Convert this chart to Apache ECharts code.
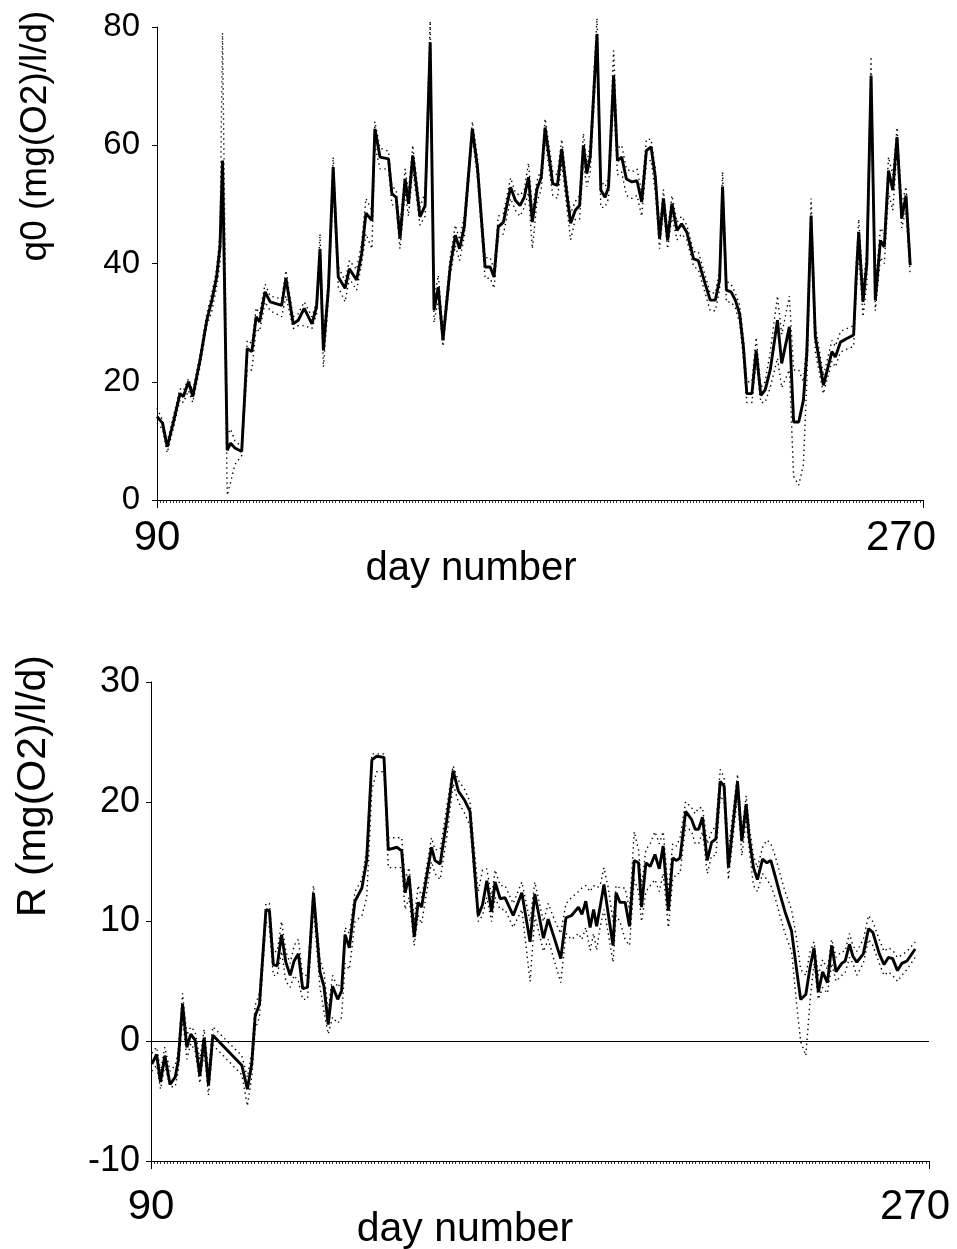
<!DOCTYPE html>
<html><head><meta charset="utf-8">
<script src="https://cdn.jsdelivr.net/npm/echarts@6/dist/echarts.min.js"></script>
<style>html,body{margin:0;padding:0;background:#fff}#c{width:957px;height:1249px}</style>
</head><body><div id="c"></div>
<script>
// ---------- top panel: q0 ----------
const qDays = [
  90.0, 91.3, 92.4, 93.8, 95.4, 96.2, 97.4, 98.4, 100.1, 101.7,
  102.9, 104.0, 104.8, 105.4, 106.5, 107.3, 108.3, 109.9, 111.2, 112.3,
  113.3, 114.1, 115.4, 116.6, 119.3, 120.3, 122.0, 123.2, 124.6, 126.4,
  127.5, 128.3, 129.1, 130.3, 131.4, 132.6, 134.2, 135.2, 136.9, 138.1,
  139.1, 140.5, 141.2, 142.4, 144.4, 145.2, 146.2, 147.1, 148.3, 149.1,
  150.1, 151.8, 153.0, 154.2, 155.1, 156.1, 157.2, 158.9, 160.1, 161.1,
  162.2, 164.1, 165.3, 167.1, 168.3, 169.2, 170.2, 171.4, 173.1, 174.2,
  175.3, 176.3, 177.3, 178.2, 179.3, 180.3, 181.2, 183.0, 184.1, 185.1,
  186.3, 187.2, 188.3, 189.3, 190.2, 191.0, 191.8, 193.4, 194.3, 195.3,
  196.1, 197.3, 198.2, 199.2, 200.3, 201.6, 202.8, 203.9, 205.0, 206.1,
  207.1, 208.1, 209.0, 210.0, 211.0, 212.2, 213.3, 214.5, 216.1, 217.2,
  218.8, 220.0, 221.2, 222.2, 222.9, 223.8, 224.9, 225.9, 226.9, 227.8,
  228.6, 229.8, 230.8, 231.9, 232.9, 234.1, 235.8, 236.8, 238.6, 239.6,
  240.8, 241.9, 242.7, 243.7, 244.7, 246.6, 248.6, 249.4, 250.6, 252.1,
  253.7, 254.3, 254.9, 255.9, 256.8, 257.8, 258.8, 260.0, 260.9, 261.9,
  262.9, 263.9, 265.0, 266.0, 267.0
];
const q0 = [
  14.1, 13.0, 9.0, 13.0, 18.0, 17.5, 20.0, 17.5, 23.6, 30.4,
  33.8, 37.7, 42.8, 57.4, 8.4, 9.6, 8.8, 8.2, 25.6, 25.1,
  31.0, 30.1, 35.2, 33.5, 32.9, 37.5, 29.8, 30.4, 32.4, 29.8,
  32.7, 42.5, 25.3, 36.0, 56.3, 37.7, 35.8, 39.1, 37.2, 41.7,
  48.5, 47.3, 62.8, 58.0, 57.7, 51.8, 51.2, 44.2, 54.3, 50.1,
  58.3, 47.9, 49.8, 77.4, 32.1, 36.0, 27.0, 39.4, 44.8, 42.5,
  46.2, 62.8, 56.3, 39.4, 39.4, 37.7, 46.2, 47.0, 52.9, 50.7,
  49.8, 51.2, 54.6, 47.0, 52.6, 54.6, 63.0, 53.5, 53.2, 59.4,
  51.8, 46.8, 49.0, 49.8, 60.0, 55.2, 58.0, 78.8, 52.4, 51.2,
  52.9, 71.8, 57.4, 58.0, 54.3, 53.8, 54.0, 50.4, 59.1, 59.7,
  54.6, 44.2, 51.0, 43.9, 50.1, 45.6, 46.7, 45.3, 40.8, 40.5,
  36.6, 33.8, 33.8, 37.2, 53.0, 35.5, 35.2, 33.8, 31.5, 25.9,
  18.0, 18.0, 25.3, 17.7, 18.6, 22.0, 30.4, 23.1, 29.3, 13.2,
  13.2, 16.9, 24.8, 48.1, 27.6, 19.4, 25.1, 24.2, 26.7, 27.3,
  27.9, 37.7, 45.3, 33.5, 40.0, 71.8, 33.8, 43.9, 42.8, 55.7,
  52.4, 61.4, 47.6, 51.5, 39.7
];
const q0Upper = [
  15.5, 13.5, 9.8, 14.0, 18.8, 18.5, 20.5, 18.5, 24.5, 31.5,
  35.0, 39.0, 45.0, 79.0, 11.0, 12.0, 10.0, 9.0, 27.0, 26.5,
  32.5, 31.5, 36.5, 34.5, 34.0, 38.8, 31.0, 31.5, 33.5, 31.0,
  33.5, 45.0, 27.0, 37.5, 58.0, 39.5, 37.0, 40.5, 39.0, 43.5,
  51.0, 49.0, 64.0, 59.5, 59.0, 53.0, 52.5, 46.0, 56.0, 52.0,
  60.0, 49.5, 52.0, 81.0, 34.0, 38.0, 28.5, 41.0, 46.5, 44.0,
  48.0, 64.0, 58.0, 41.0, 41.0, 39.0, 48.0, 48.5, 54.5, 52.0,
  51.5, 52.5, 57.0, 49.0, 54.0, 56.0, 64.5, 55.5, 55.0, 61.0,
  53.5, 48.5, 50.5, 51.5, 62.0, 57.0, 60.0, 81.5, 54.0, 53.0,
  54.5, 76.0, 59.5, 60.0, 56.0, 55.5, 56.0, 52.0, 61.0, 61.0,
  56.0, 46.0, 52.5, 45.5, 51.5, 47.0, 48.0, 46.5, 42.0, 42.0,
  38.0, 35.0, 35.0, 39.0, 55.5, 37.0, 36.5, 35.0, 33.0, 27.5,
  20.0, 20.0, 27.5, 19.0, 20.0, 25.0, 34.5, 28.0, 34.5, 22.0,
  22.0, 20.0, 27.0, 51.0, 29.5, 21.0, 27.0, 26.0, 28.5, 29.0,
  29.5, 40.0, 47.5, 36.0, 42.0, 75.0, 36.0, 46.0, 45.0, 58.0,
  55.0, 63.0, 50.0, 53.0, 41.5
];
const q0Lower = [
  13.0, 12.0, 8.0, 12.0, 17.0, 16.5, 18.5, 16.5, 22.5, 29.5,
  32.0, 36.0, 40.0, 55.0, 0.8, 3.0, 6.0, 7.5, 22.0, 22.0,
  29.0, 28.5, 33.5, 32.0, 31.0, 34.5, 29.0, 29.5, 29.5, 29.0,
  31.5, 40.0, 22.5, 34.0, 53.0, 36.0, 33.5, 37.5, 35.5, 40.0,
  45.0, 42.5, 60.0, 56.0, 56.0, 50.0, 49.5, 42.5, 52.0, 48.0,
  56.0, 46.5, 48.0, 75.0, 30.0, 34.0, 26.0, 38.0, 43.0, 40.5,
  44.5, 61.5, 54.5, 37.5, 37.5, 35.8, 44.5, 45.0, 51.0, 49.0,
  48.0, 49.5, 52.0, 42.5, 50.5, 52.5, 61.0, 51.5, 51.0, 57.0,
  49.5, 44.0, 47.5, 47.5, 57.0, 53.0, 55.5, 76.0, 49.5, 49.5,
  51.0, 68.0, 55.0, 55.5, 51.5, 51.0, 51.5, 48.0, 57.0, 57.5,
  52.0, 42.5, 49.0, 42.5, 48.0, 44.0, 45.0, 44.0, 39.5, 39.0,
  35.0, 32.0, 32.0, 35.5, 51.0, 33.5, 33.5, 32.5, 30.0, 24.0,
  16.5, 16.5, 23.5, 16.5, 16.5, 19.0, 24.0, 19.0, 22.0, 4.0,
  2.5, 6.0, 20.0, 45.0, 25.0, 18.0, 23.5, 22.5, 25.0, 25.5,
  26.0, 35.0, 42.0, 31.0, 36.5, 68.0, 32.0, 41.0, 40.0, 52.0,
  49.0, 59.0, 46.0, 49.0, 38.0
];

// ---------- bottom panel: R ----------
const rDays = [
  90.2, 91.3, 92.2, 93.2, 94.4, 95.6, 96.3, 97.3, 98.3, 99.2,
  100.2, 101.3, 102.3, 103.3, 104.3, 111.0, 112.3, 113.3, 114.1, 115.1,
  116.6, 117.4, 118.3, 119.2, 120.2, 121.2, 122.2, 123.1, 124.1, 125.1,
  126.2, 127.6, 129.1, 130.0, 131.0, 132.0, 133.2, 134.1, 134.9, 135.9,
  137.2, 138.8, 139.9, 141.1, 142.2, 143.9, 144.9, 146.9, 148.0, 148.8,
  149.7, 150.9, 151.8, 152.6, 154.9, 155.7, 156.9, 158.4, 159.9, 161.1,
  162.6, 163.8, 165.7, 166.7, 167.7, 168.8, 169.6, 170.8, 171.9, 173.8,
  175.8, 177.7, 178.8, 180.8, 181.9, 183.5, 184.8, 186.0, 187.3, 188.9,
  189.7, 190.6, 191.6, 192.4, 193.1, 193.9, 194.8, 195.8, 196.9, 197.6,
  198.5, 199.7, 200.7, 201.8, 202.8, 203.5, 204.5, 205.5, 206.6, 207.6,
  208.5, 209.7, 210.7, 211.6, 212.4, 213.7, 215.1, 215.9, 216.7, 217.6,
  218.7, 219.7, 220.7, 221.7, 222.6, 223.6, 225.7, 226.7, 227.7, 228.4,
  229.4, 230.3, 231.5, 232.5, 233.4, 234.4, 235.5, 236.7, 238.2, 239.4,
  240.3, 241.5, 242.5, 243.4, 244.4, 245.4, 246.5, 247.5, 248.5, 249.8,
  250.6, 251.6, 252.4, 253.3, 254.8, 256.0, 257.0, 258.5, 259.6, 260.6,
  261.6, 262.7, 263.7, 264.9, 266.8
];
const R = [
  -1.9, -1.1, -3.4, -1.2, -3.6, -3.0, -1.6, 3.1, -0.5, 0.6,
  0.1, -2.9, 0.3, -3.7, 0.5, -2.0, -4.0, -1.9, 2.1, 3.1,
  11.0, 10.9, 6.4, 6.3, 8.9, 6.6, 5.5, 6.7, 7.3, 4.4,
  4.5, 12.4, 5.8, 4.6, 1.4, 4.6, 3.5, 4.2, 8.9, 7.8,
  11.7, 12.8, 15.1, 23.5, 23.8, 23.7, 16.0, 16.2, 15.9, 12.4,
  13.8, 8.7, 11.6, 11.2, 16.2, 15.1, 14.8, 18.4, 22.6, 20.9,
  20.1, 19.2, 10.5, 11.4, 13.4, 10.8, 13.3, 11.9, 12.0, 10.5,
  12.4, 8.3, 12.3, 8.6, 10.2, 8.4, 6.9, 10.3, 10.5, 11.2,
  10.6, 11.7, 9.5, 11.0, 9.6, 11.2, 13.1, 10.6, 8.0, 12.4,
  11.6, 11.6, 9.6, 15.1, 14.9, 11.2, 14.9, 14.6, 15.6, 14.4,
  16.3, 10.9, 15.3, 15.1, 15.3, 19.2, 18.5, 17.7, 17.7, 18.7,
  15.1, 16.6, 16.9, 21.7, 21.3, 14.5, 21.7, 16.7, 19.8, 17.0,
  14.5, 13.5, 15.2, 14.9, 15.1, 13.8, 12.3, 10.8, 9.2, 5.9,
  3.5, 3.9, 6.2, 7.8, 4.1, 5.8, 4.9, 8.0, 5.8, 6.5,
  6.7, 8.1, 7.1, 6.6, 7.3, 9.4, 9.1, 7.3, 6.4, 7.0,
  6.9, 5.9, 6.5, 6.7, 7.7
];
const rUpper = [
  -1.0, -0.5, -2.5, -0.5, -2.5, -2.0, -0.8, 4.0, 0.5, 1.2,
  0.8, -1.5, 1.0, -2.5, 1.2, -1.2, -3.0, -1.0, 3.0, 4.0,
  11.5, 11.5, 7.5, 7.5, 10.0, 7.5, 6.5, 8.0, 8.5, 5.5,
  5.5, 13.0, 6.8, 5.8, 2.5, 5.5, 4.5, 5.0, 9.5, 9.0,
  12.5, 13.5, 16.0, 24.0, 24.0, 24.0, 17.0, 17.0, 17.0, 13.5,
  14.5, 10.0, 13.0, 12.0, 17.0, 16.0, 16.0, 19.5, 23.0, 21.8,
  21.0, 20.0, 12.5, 14.3, 14.4, 12.0, 14.3, 13.0, 13.0, 11.5,
  13.3, 10.0, 13.3, 10.0, 11.5, 10.0, 9.0, 11.5, 12.0, 12.5,
  12.8, 13.0, 12.5, 13.0, 12.8, 13.0, 14.5, 12.8, 10.0, 13.0,
  12.8, 12.8, 11.0, 17.5, 16.0, 13.0, 16.0, 16.5, 17.5, 16.5,
  17.5, 12.5, 16.5, 16.3, 17.0, 20.0, 19.5, 19.0, 19.5, 19.5,
  16.5, 17.5, 18.0, 22.7, 22.0, 16.0, 22.3, 17.5, 20.5, 18.0,
  15.5, 14.5, 16.2, 16.8, 16.5, 15.5, 14.0, 12.5, 11.0, 8.5,
  6.0, 5.5, 7.5, 8.3, 5.5, 6.8, 6.0, 8.5, 7.0, 7.5,
  7.5, 9.0, 8.0, 7.5, 8.5, 10.5, 10.0, 8.5, 7.5, 7.8,
  7.6, 7.0, 7.2, 7.5, 8.3
];
const rLower = [
  -2.5, -2.0, -4.0, -2.0, -3.8, -3.8, -2.5, 2.0, -1.5, -0.2,
  -0.8, -3.5, -0.8, -4.5, -0.3, -2.8, -5.4, -3.0, 1.0, 2.0,
  10.0, 9.5, 5.5, 5.5, 7.5, 5.0, 4.5, 5.5, 5.0, 3.5,
  3.5, 11.0, 4.5, 2.5, 0.6, 2.0, 1.5, 2.0, 6.5, 6.0,
  10.0, 10.5, 12.0, 21.0, 22.5, 22.5, 14.5, 14.5, 14.5, 11.0,
  12.0, 8.0, 10.5, 9.8, 15.0, 14.0, 13.5, 17.0, 21.5, 20.0,
  19.0, 18.0, 10.0, 10.5, 12.0, 10.0, 12.0, 11.0, 11.0, 9.5,
  11.0, 5.0, 10.5, 7.5, 8.5, 6.5, 4.9, 9.0, 8.5, 9.0,
  8.5, 9.5, 7.6, 9.0, 7.6, 9.5, 11.0, 9.0, 6.6, 10.5,
  10.0, 8.5, 8.0, 13.5, 12.5, 10.0, 12.5, 13.0, 13.5, 12.5,
  14.0, 9.5, 13.5, 14.0, 14.0, 18.0, 17.5, 16.5, 16.5, 17.5,
  14.0, 15.5, 15.5, 20.5, 20.0, 13.5, 20.5, 15.5, 18.5, 16.0,
  13.0, 12.5, 14.0, 13.5, 13.0, 12.0, 10.5, 9.0, 7.5, 3.0,
  0.0, -1.2, 3.5, 6.5, 3.5, 4.5, 4.0, 6.5, 5.0, 5.5,
  5.7, 7.0, 6.5, 5.5, 6.5, 8.5, 8.0, 6.5, 5.5, 5.8,
  5.5, 5.0, 5.5, 6.0, 7.0
];

const xTickLabels = [90, 270];
const qYTitle = 'q0 (mg(O2)/l/d)';
const rYTitle = 'R (mg(O2)/l/d)';
const xTitle = 'day number';

const FONT = '"Liberation Sans", Arial, Helvetica, sans-serif';
const zip = (xs, ys) => xs.map((x, i) => [x, ys[i]]);

// dense small ticks along the day axis (no labels)
function xFineAxis(gridIndex) {
  return {
    type: 'value', gridIndex: gridIndex, min: xTickLabels[0], max: xTickLabels[1], interval: 0.75,
    axisLine: { show: true, onZero: false, lineStyle: { color: '#000', width: 1 } },
    axisTick: { show: true, inside: false, length: 3, lineStyle: { color: '#000', width: 0.8 } },
    splitLine: { show: false },
    axisLabel: { show: false }
  };
}
// labelled end ticks 90 / 270
function xLabelAxis(gridIndex, margin, shift) {
  return {
    type: 'value', gridIndex: gridIndex, position: 'bottom', min: xTickLabels[0], max: xTickLabels[1], interval: 180,
    axisLine: { show: false, onZero: false },
    axisTick: { show: true, inside: false, length: 8, lineStyle: { color: '#000', width: 1 } },
    splitLine: { show: false },
    axisLabel: {
      margin: margin, fontSize: 42, fontFamily: FONT, color: '#000',
      formatter: function (v) { return Math.round(v) === xTickLabels[1] ? '{r|' + xTickLabels[1] + '}' : String(Math.round(v)); },
      rich: { r: { fontSize: 42, fontFamily: FONT, color: '#000', padding: [0, shift * 2, 0, 0] } }
    }
  };
}
function yAxisCfg(gridIndex, min, max, interval, fontSize, margin) {
  return {
    type: 'value', gridIndex: gridIndex, min: min, max: max, interval: interval,
    axisLine: { show: true, onZero: false, lineStyle: { color: '#000', width: 1 } },
    axisTick: { show: true, inside: false, length: 5, lineStyle: { color: '#000', width: 1 } },
    splitLine: { show: false },
    axisLabel: { margin: margin, fontSize: fontSize, fontFamily: FONT, color: '#000' }
  };
}
const mainLine = { color: '#000', width: 2.9 };
const dotLine = { color: '#000', width: 1.4, type: [1.4, 3.6] };

const chart = echarts.init(document.getElementById('c'), null, { renderer: 'canvas' });
chart.setOption({
  animation: false,
  backgroundColor: '#fff',
  grid: [
    { left: 157, top: 27, width: 766, height: 473 },
    { left: 151, top: 682, width: 778, height: 479 }
  ],
  xAxis: [xFineAxis(0), xFineAxis(1), xLabelAxis(0, 17, 22), xLabelAxis(1, 25, 14)],
  yAxis: [yAxisCfg(0, 0, 80, 20, 33, 17), yAxisCfg(1, -10, 30, 10, 36, 11)],
  graphic: [
    { type: 'text', x: 36, y: 136, rotation: Math.PI / 2, style: { text: qYTitle, fontSize: 37, fontFamily: FONT, fill: '#000', align: 'center', verticalAlign: 'middle' } },
    { type: 'text', x: 34, y: 786, rotation: Math.PI / 2, style: { text: rYTitle, fontSize: 41, fontFamily: FONT, fill: '#000', align: 'center', verticalAlign: 'middle' } },
    { type: 'text', x: 471, y: 569, style: { text: xTitle, fontSize: 40, fontFamily: FONT, fill: '#000', align: 'center', verticalAlign: 'middle' } },
    { type: 'text', x: 465, y: 1230, style: { text: xTitle, fontSize: 41, fontFamily: FONT, fill: '#000', align: 'center', verticalAlign: 'middle' } }
  ],
  series: [
    { name: 'q0 upper', type: 'line', xAxisIndex: 0, yAxisIndex: 0, data: zip(qDays, q0Upper), symbol: 'none', lineStyle: dotLine, clip: false, z: 2 },
    { name: 'q0 lower', type: 'line', xAxisIndex: 0, yAxisIndex: 0, data: zip(qDays, q0Lower), symbol: 'none', lineStyle: dotLine, clip: false, z: 2 },
    { name: 'q0', type: 'line', xAxisIndex: 0, yAxisIndex: 0, data: zip(qDays, q0), symbol: 'none', lineStyle: mainLine, z: 3 },
    { name: 'R upper', type: 'line', xAxisIndex: 1, yAxisIndex: 1, data: zip(rDays, rUpper), symbol: 'none', lineStyle: dotLine, z: 2 },
    { name: 'R lower', type: 'line', xAxisIndex: 1, yAxisIndex: 1, data: zip(rDays, rLower), symbol: 'none', lineStyle: dotLine, z: 2 },
    { name: 'R', type: 'line', xAxisIndex: 1, yAxisIndex: 1, data: zip(rDays, R), symbol: 'none', lineStyle: mainLine, z: 3,
      markLine: { silent: true, symbol: 'none', label: { show: false }, lineStyle: { color: '#000', width: 1, type: 'solid' }, data: [{ yAxis: 0 }] } }
  ]
});
</script>
</body></html>
